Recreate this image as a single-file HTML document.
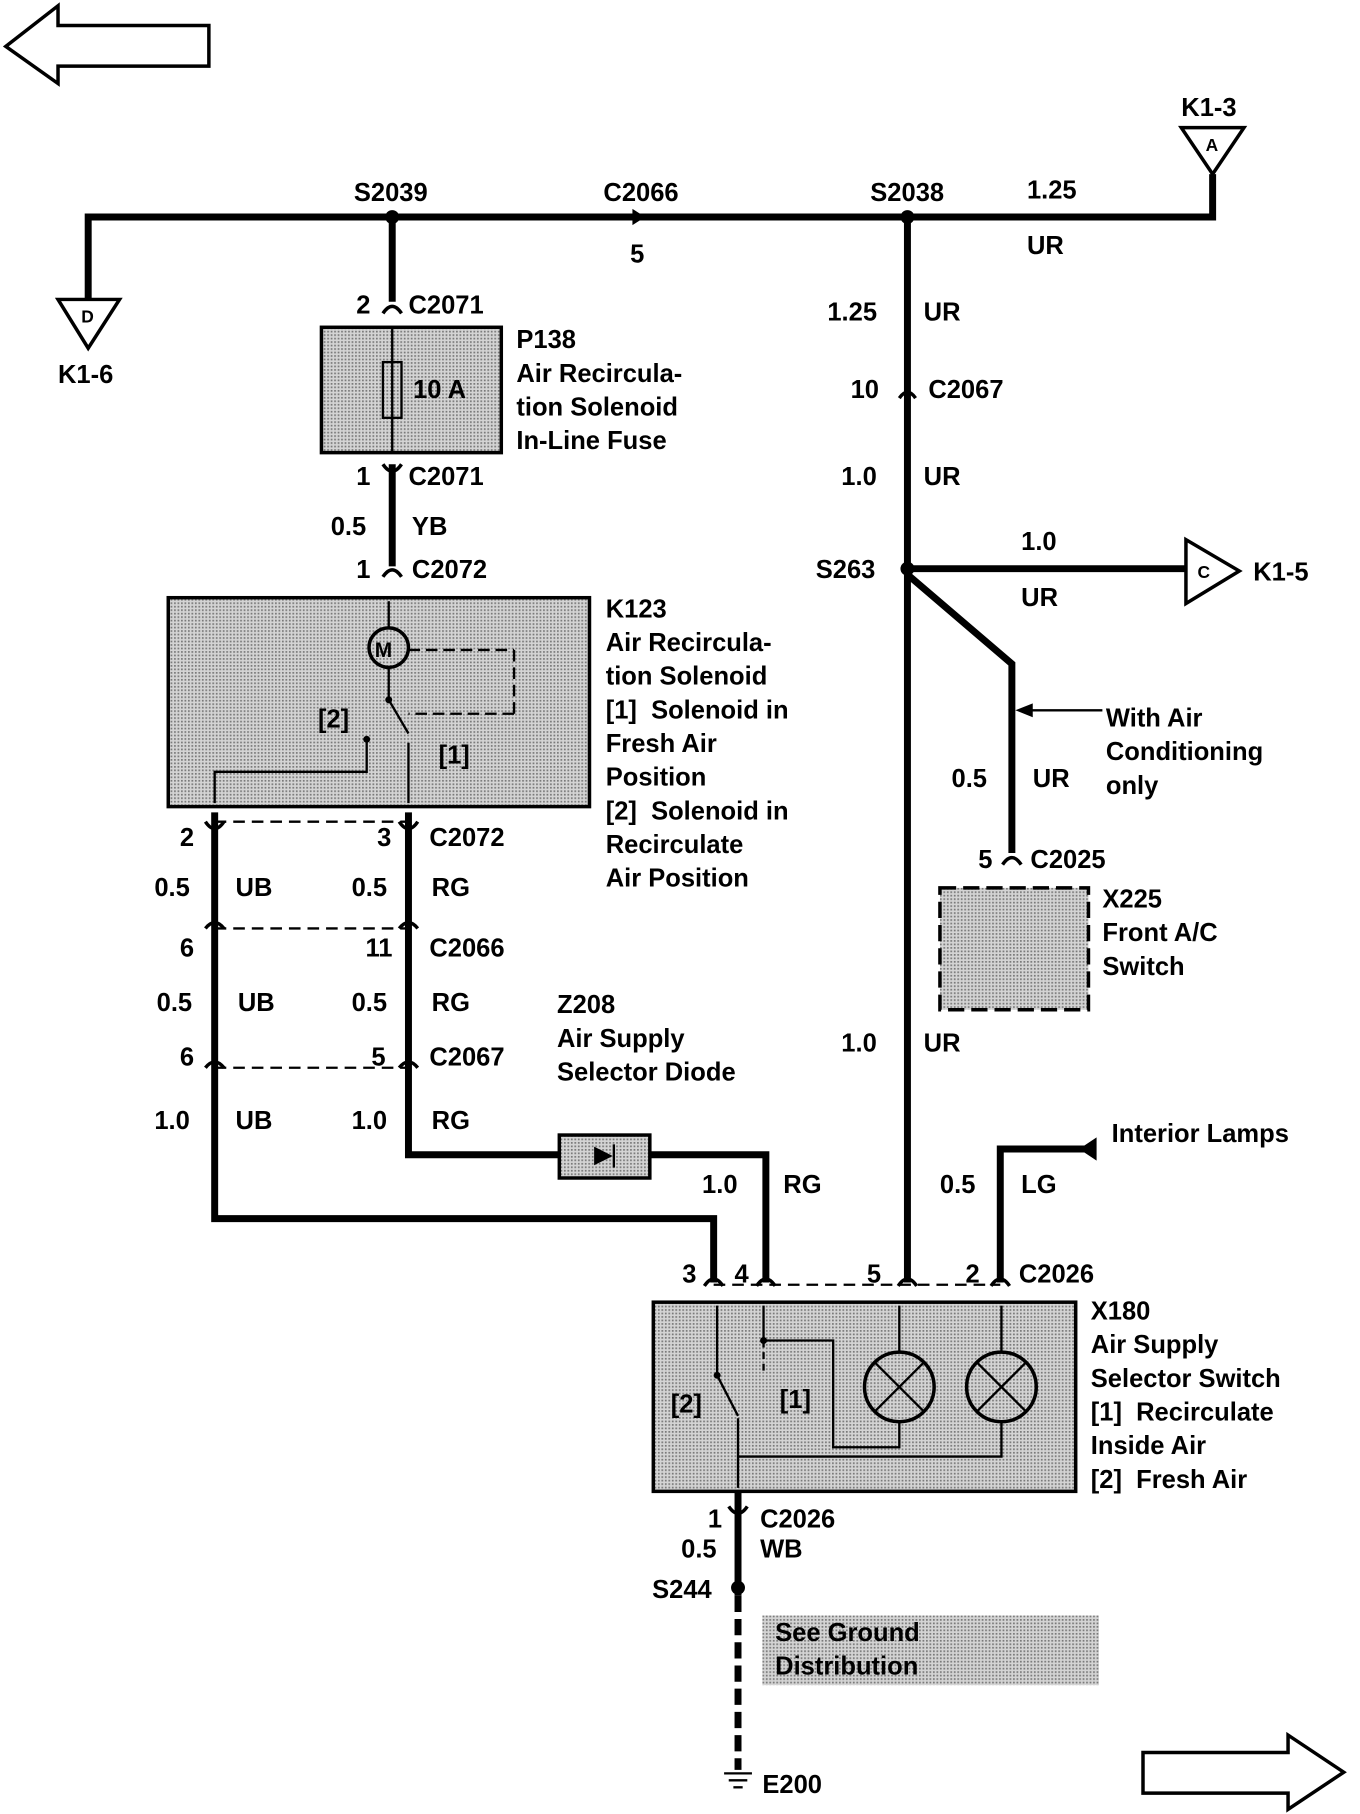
<!DOCTYPE html>
<html><head><meta charset="utf-8"><style>
html,body{margin:0;padding:0;background:#fff;}
svg{display:block;}
text{font-family:"Liberation Sans",sans-serif;font-weight:bold;font-size:22px;fill:#000;}
</style></head><body>
<svg width="1360" height="1814" viewBox="0 0 1172 1563" preserveAspectRatio="none" xmlns="http://www.w3.org/2000/svg">
<defs>
<pattern id="st" width="3" height="3" patternUnits="userSpaceOnUse"><rect width="3" height="3" fill="#d4d4d4"/><rect width="1.5" height="1.5" fill="#7a7a7a"/></pattern>
</defs>
<g fill="none" stroke="#000" stroke-width="3">
<polygon points="5,40 50,5 50,22 180,22 180,57 50,57 50,72"/>
<polygon points="985,1510 1110,1510 1110,1495 1158,1527 1110,1559 1110,1545 985,1545"/>
</g>
<g stroke="#000" stroke-width="6" fill="none" stroke-linejoin="miter">
<polyline points="76,260 76,187 1045,187 1045,150"/>
<line x1="338" y1="187" x2="338" y2="260"/>
<line x1="782" y1="187" x2="782" y2="1105"/>
<line x1="782" y1="490" x2="1022" y2="490"/>
<polyline points="782,495 872,572 872,735"/>
<line x1="338" y1="400" x2="338" y2="488"/>
<polyline points="185,700 185,1050 615,1050 615,1105"/>
<polyline points="352,700 352,995 660,995 660,1105"/>
<polyline points="935,990 862,990 862,1105"/>
<line x1="636" y1="1285" x2="636" y2="1375"/>
<line x1="636" y1="1375" x2="636" y2="1525" stroke-dasharray="14,6"/>
</g>
<!-- connector symbols -->
<g stroke="#000" stroke-width="3" fill="none">
<path d="M330,270 Q338,258 346,270"/>
<path d="M330,400 Q338,412 346,400"/>
<path d="M330,497 Q338,485 346,497"/>
<path d="M775,343 Q782,333 789,343"/>
<path d="M864,745 Q872,733 880,745"/>
<path d="M177,708 Q185,720 193,708"/><path d="M344,708 Q352,720 360,708"/>
<path d="M177,800 Q185,790 193,800"/><path d="M344,800 Q352,790 360,800"/>
<path d="M177,920 Q185,910 193,920"/><path d="M344,920 Q352,910 360,920"/>
<path d="M607,1108 Q615,1096 623,1108"/><path d="M652,1108 Q660,1096 668,1108"/>
<path d="M774,1108 Q782,1096 790,1108"/><path d="M854,1108 Q862,1096 870,1108"/>
<path d="M628,1298 Q636,1310 644,1298"/>
</g>
<g fill="#fff" stroke="#000" stroke-width="3">
<polygon points="50,258 103,258 76,300"/>
<polygon points="1018,110 1072,110 1045,150"/>
<polygon points="1022,465 1022,520 1068,492"/>
</g>
<polygon points="930,990 945,980 945,1000" fill="#000"/>
<g><text x="70" y="278" style="font-size:15px">D</text><text x="1039" y="130" style="font-size:15px">A</text><text x="1032" y="498" style="font-size:15px">C</text></g>
<g fill="#000">
<circle cx="338" cy="187" r="6"/><circle cx="782" cy="187" r="6"/><circle cx="782" cy="490" r="6"/><circle cx="636" cy="1368" r="6"/>
</g>
<polygon points="545,180 556,187 545,194" fill="#000"/>
<rect x="277" y="282" width="155" height="108" fill="url(#st)" stroke="#000" stroke-width="3"/>
<line x1="338" y1="282" x2="338" y2="390" stroke="#000" stroke-width="2"/>
<rect x="330" y="312" width="16" height="48" fill="none" stroke="#000" stroke-width="2"/>
<rect x="145" y="515" width="363" height="180" fill="url(#st)" stroke="#000" stroke-width="3"/>
<g stroke="#000" stroke-width="2" fill="none">
<line x1="335" y1="518" x2="335" y2="540"/>
<circle cx="335" cy="558" r="17" stroke-width="3"/>
<line x1="352" y1="560" x2="443" y2="560" stroke-dasharray="10,5"/>
<line x1="443" y1="560" x2="443" y2="615" stroke-dasharray="10,5"/>
<line x1="443" y1="615" x2="352" y2="615" stroke-dasharray="10,5"/>
<line x1="335" y1="576" x2="335" y2="603"/>
<line x1="335" y1="603" x2="352" y2="632"/>
<polyline points="352,640 352,692"/>
<polyline points="316,637 316,665 185,665 185,692"/>
</g>
<text x="323" y="566" style="font-size:18px">M</text>
<circle cx="335" cy="603" r="3" fill="#000"/><circle cx="316" cy="637" r="3" fill="#000"/>
<g stroke="#000" stroke-width="2" stroke-dasharray="10,6">
<line x1="185" y1="708" x2="352" y2="708"/><line x1="185" y1="800" x2="352" y2="800"/><line x1="185" y1="920" x2="352" y2="920"/>
<line x1="615" y1="1107" x2="862" y2="1107"/>
</g>
<rect x="482" y="978" width="78" height="37" fill="url(#st)" stroke="#000" stroke-width="3"/>
<polygon points="512,988 528,996 512,1004" fill="#000"/><line x1="529" y1="986" x2="529" y2="1006" stroke="#000" stroke-width="2"/>
<rect x="810" y="765" width="128" height="105" fill="url(#st)" stroke="#000" stroke-width="3" stroke-dasharray="14,6"/>
<line x1="880" y1="612" x2="950" y2="612" stroke="#000" stroke-width="2"/><polygon points="875,612 890,606 890,618" fill="#000"/>
<rect x="563" y="1122" width="364" height="163" fill="url(#st)" stroke="#000" stroke-width="3"/>
<g stroke="#000" stroke-width="2" fill="none">
<line x1="618" y1="1125" x2="618" y2="1185"/>
<polyline points="658,1125 658,1155 718,1155 718,1247 775,1247 775,1225"/>
<line x1="658" y1="1155" x2="658" y2="1185" stroke-dasharray="6,4"/>
<line x1="618" y1="1185" x2="636" y2="1220"/>
<polyline points="636,1222 636,1282"/>
<polyline points="636,1255 863,1255 863,1225"/>
<line x1="775" y1="1125" x2="775" y2="1165"/><line x1="863" y1="1125" x2="863" y2="1165"/>
<circle cx="775" cy="1195" r="30" stroke-width="3"/><circle cx="863" cy="1195" r="30" stroke-width="3"/>
<line x1="754" y1="1174" x2="796" y2="1216"/><line x1="796" y1="1174" x2="754" y2="1216"/>
<line x1="842" y1="1174" x2="884" y2="1216"/><line x1="884" y1="1174" x2="842" y2="1216"/>
</g>
<circle cx="618" cy="1185" r="3" fill="#000"/><circle cx="658" cy="1155" r="3" fill="#000"/>
<rect x="657" y="1392" width="290" height="60" fill="url(#st)"/>
<g stroke="#000" stroke-width="2"><line x1="624" y1="1528" x2="648" y2="1528"/><line x1="628" y1="1534" x2="644" y2="1534"/><line x1="632" y1="1540" x2="640" y2="1540"/></g>
<text x="1018" y="100">K1-3</text>
<text x="305" y="173">S2039</text><text x="520" y="173">C2066</text><text x="750" y="173">S2038</text><text x="885" y="171">1.25</text>
<text x="543" y="226">5</text><text x="885" y="219">UR</text>
<text x="50" y="330">K1-6</text>
<text x="307" y="270">2</text><text x="352" y="270">C2071</text>
<text x="445" y="300">P138</text><text x="445" y="329">Air Recircula-</text><text x="445" y="358">tion Solenoid</text><text x="445" y="387">In-Line Fuse</text>
<text x="356" y="343">10 A</text>
<text x="307" y="418">1</text><text x="352" y="418">C2071</text>
<text x="285" y="461">0.5</text><text x="355" y="461">YB</text>
<text x="307" y="498">1</text><text x="355" y="498">C2072</text>
<text x="522" y="532">K123</text><text x="522" y="561">Air Recircula-</text><text x="522" y="590">tion Solenoid</text><text x="522" y="619">[1]&#160; Solenoid in</text><text x="522" y="648">Fresh Air</text><text x="522" y="677">Position</text><text x="522" y="706">[2]&#160; Solenoid in</text><text x="522" y="735">Recirculate</text><text x="522" y="764">Air Position</text>
<text x="274" y="627">[2]</text><text x="378" y="658">[1]</text>
<text x="713" y="276">1.25</text><text x="796" y="276">UR</text>
<text x="733" y="343">10</text><text x="800" y="343">C2067</text>
<text x="725" y="418">1.0</text><text x="796" y="418">UR</text>
<text x="703" y="498">S263</text><text x="880" y="474">1.0</text><text x="880" y="522">UR</text><text x="1080" y="500">K1-5</text>
<text x="953" y="626">With Air</text><text x="953" y="655">Conditioning</text><text x="953" y="684">only</text>
<text x="820" y="678">0.5</text><text x="890" y="678">UR</text>
<text x="843" y="748">5</text><text x="888" y="748">C2025</text>
<text x="950" y="782">X225</text><text x="950" y="811">Front A/C</text><text x="950" y="840">Switch</text>
<text x="155" y="729">2</text><text x="325" y="729">3</text><text x="370" y="729">C2072</text>
<text x="133" y="772">0.5</text><text x="203" y="772">UB</text><text x="303" y="772">0.5</text><text x="372" y="772">RG</text>
<text x="155" y="824">6</text><text x="315" y="824">11</text><text x="370" y="824">C2066</text>
<text x="135" y="871">0.5</text><text x="205" y="871">UB</text><text x="303" y="871">0.5</text><text x="372" y="871">RG</text>
<text x="480" y="873">Z208</text><text x="480" y="902">Air Supply</text><text x="480" y="931">Selector Diode</text>
<text x="155" y="918">6</text><text x="320" y="918">5</text><text x="370" y="918">C2067</text>
<text x="725" y="906">1.0</text><text x="796" y="906">UR</text>
<text x="133" y="973">1.0</text><text x="203" y="973">UB</text><text x="303" y="973">1.0</text><text x="372" y="973">RG</text>
<text x="958" y="984">Interior Lamps</text>
<text x="605" y="1028">1.0</text><text x="675" y="1028">RG</text><text x="810" y="1028">0.5</text><text x="880" y="1028">LG</text>
<text x="588" y="1105">3</text><text x="633" y="1105">4</text><text x="747" y="1105">5</text><text x="832" y="1105">2</text><text x="878" y="1105">C2026</text>
<text x="940" y="1137">X180</text><text x="940" y="1166">Air Supply</text><text x="940" y="1195">Selector Switch</text><text x="940" y="1224">[1]&#160; Recirculate</text><text x="940" y="1253">Inside Air</text><text x="940" y="1282">[2]&#160; Fresh Air</text>
<text x="578" y="1217">[2]</text><text x="672" y="1213">[1]</text>
<text x="610" y="1316">1</text><text x="655" y="1316">C2026</text><text x="587" y="1342">0.5</text><text x="655" y="1342">WB</text>
<text x="562" y="1377">S244</text>
<text x="668" y="1414">See Ground</text><text x="668" y="1443">Distribution</text>
<text x="657" y="1545">E200</text>
</svg>
</body></html>
